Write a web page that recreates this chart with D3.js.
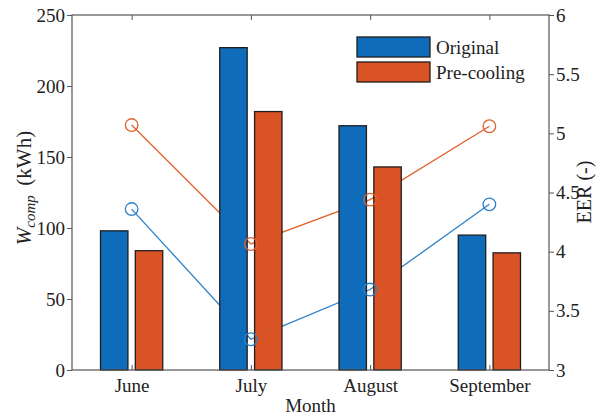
<!DOCTYPE html>
<html>
<head>
<meta charset="utf-8">
<script src="https://cdn.jsdelivr.net/npm/d3@7"></script>
<style>
  html, body { margin: 0; padding: 0; background: #fff; }
  svg text { fill: #222; }
</style>
</head>
<body>
<svg id="chart" width="599" height="416"></svg>
<script>
// Monthly compressor energy (bars, left axis) and EER (lines, right axis)
const months = ["June", "July", "August", "September"];
const seriesNames = ["Original", "Pre-cooling"];
const energyOriginal = [98, 227, 172, 95];
const energyPrecool = [84, 182, 143, 82.5];
const eerOriginal = [4.36, 3.26, 3.68, 4.40];
const eerPrecool = [5.07, 4.065, 4.44, 5.06];
const leftTicks = [0, 50, 100, 150, 200, 250];
const rightTicks = [3, 3.5, 4, 4.5, 5, 5.5, 6];

const barFill = ["#0f6cbb", "#d95325"];
const lineColor = ["#2c80c8", "#e1612f"];
const serif = "Liberation Serif";
const fs = 19;

const svg = d3.select("#chart").attr("font-family", serif);
const L = 72, R = 549, T = 15, B = 370;

const x = d3.scaleLinear().domain([0.5, 4.5]).range([L, R]);
const yL = d3.scaleLinear().domain([0, 250]).range([B, T]);
const yR = d3.scaleLinear().domain([3, 6]).range([B, T]);

const barW = 0.23, barOff = 0.146;
const axisColor = "#555";

// EER lines sit behind the bars
const eerSets = [eerOriginal, eerPrecool];
const line = d3.line().x((d, i) => x(i + 1)).y(d => yR(d));
eerSets.forEach((s, k) => {
  svg.append("path").datum(s).attr("d", line)
    .attr("fill", "none").attr("stroke", lineColor[k]).attr("stroke-width", 1.3);
});

// Grouped bars
const energySets = [energyOriginal, energyPrecool];
energySets.forEach((s, k) => {
  svg.append("g").selectAll("rect").data(s).join("rect")
    .attr("x", (d, i) => x(i + 1 + (k === 0 ? -barOff : barOff) - barW / 2))
    .attr("width", x(1 + barW) - x(1))
    .attr("y", d => yL(d))
    .attr("height", d => yL(0) - yL(d))
    .attr("fill", barFill[k])
    .attr("stroke", "#1e1e1e").attr("stroke-width", 1.3);
});

// EER markers
eerSets.forEach((s, k) => {
  svg.append("g").selectAll("circle").data(s).join("circle")
    .attr("cx", (d, i) => x(i + 1)).attr("cy", d => yR(d)).attr("r", 6.3)
    .attr("fill", "none").attr("stroke", lineColor[k]).attr("stroke-width", 1.3);
});

// Axes and box
const styleAxis = g => {
  g.attr("font-family", serif);
  g.select(".domain").remove();
  g.selectAll("line").attr("stroke", axisColor);
  g.selectAll("text").attr("font-size", fs).attr("fill", "#222");
};
svg.append("g").attr("transform", `translate(0,${B})`)
  .call(d3.axisBottom(x).tickValues([1, 2, 3, 4]).tickFormat((d, i) => months[i])
    .tickSizeInner(-5).tickSizeOuter(0).tickPadding(9))
  .call(styleAxis);
svg.append("g").attr("transform", `translate(0,${T})`)
  .call(d3.axisTop(x).tickValues([1, 2, 3, 4]).tickFormat("").tickSizeInner(-5).tickSizeOuter(0))
  .call(styleAxis);
svg.append("g").attr("transform", `translate(${L},0)`)
  .call(d3.axisLeft(yL).tickValues(leftTicks).tickSizeInner(5).tickSizeOuter(0).tickPadding(2))
  .call(styleAxis);
svg.append("g").attr("transform", `translate(${R},0)`)
  .call(d3.axisRight(yR).tickValues(rightTicks).tickFormat(d3.format("~g"))
    .tickSizeInner(5).tickSizeOuter(0).tickPadding(2))
  .call(styleAxis);
svg.append("rect").attr("x", L).attr("y", T).attr("width", R - L).attr("height", B - T)
  .attr("fill", "none").attr("stroke", axisColor).attr("stroke-width", 1.2);

// Axis titles
svg.append("text").attr("x", x(2.5)).attr("y", 412).attr("text-anchor", "middle")
  .attr("font-size", fs).text("Month");

const yt = svg.append("text").attr("transform", "translate(31,188) rotate(-90)")
  .attr("text-anchor", "middle").attr("font-size", 21);
yt.append("tspan").attr("font-style", "italic").text("W");
yt.append("tspan").attr("font-style", "italic").attr("font-size", 15).attr("dy", 4).text("comp");
yt.append("tspan").attr("dy", -4).text("\u2009 (kWh)");

svg.append("text").attr("transform", "translate(591,192) rotate(-90)")
  .attr("text-anchor", "middle").attr("font-size", 20).text("EER (-)");

// Legend
const lg = svg.append("g");
seriesNames.forEach((n, k) => {
  lg.append("rect").attr("x", 357).attr("y", 37 + k * 25).attr("width", 73).attr("height", 20)
    .attr("fill", barFill[k]).attr("stroke", "#1e1e1e").attr("stroke-width", 1.3);
  lg.append("text").attr("x", 436).attr("y", 54 + k * 25).attr("font-size", fs).text(n);
});
</script>
</body>
</html>
